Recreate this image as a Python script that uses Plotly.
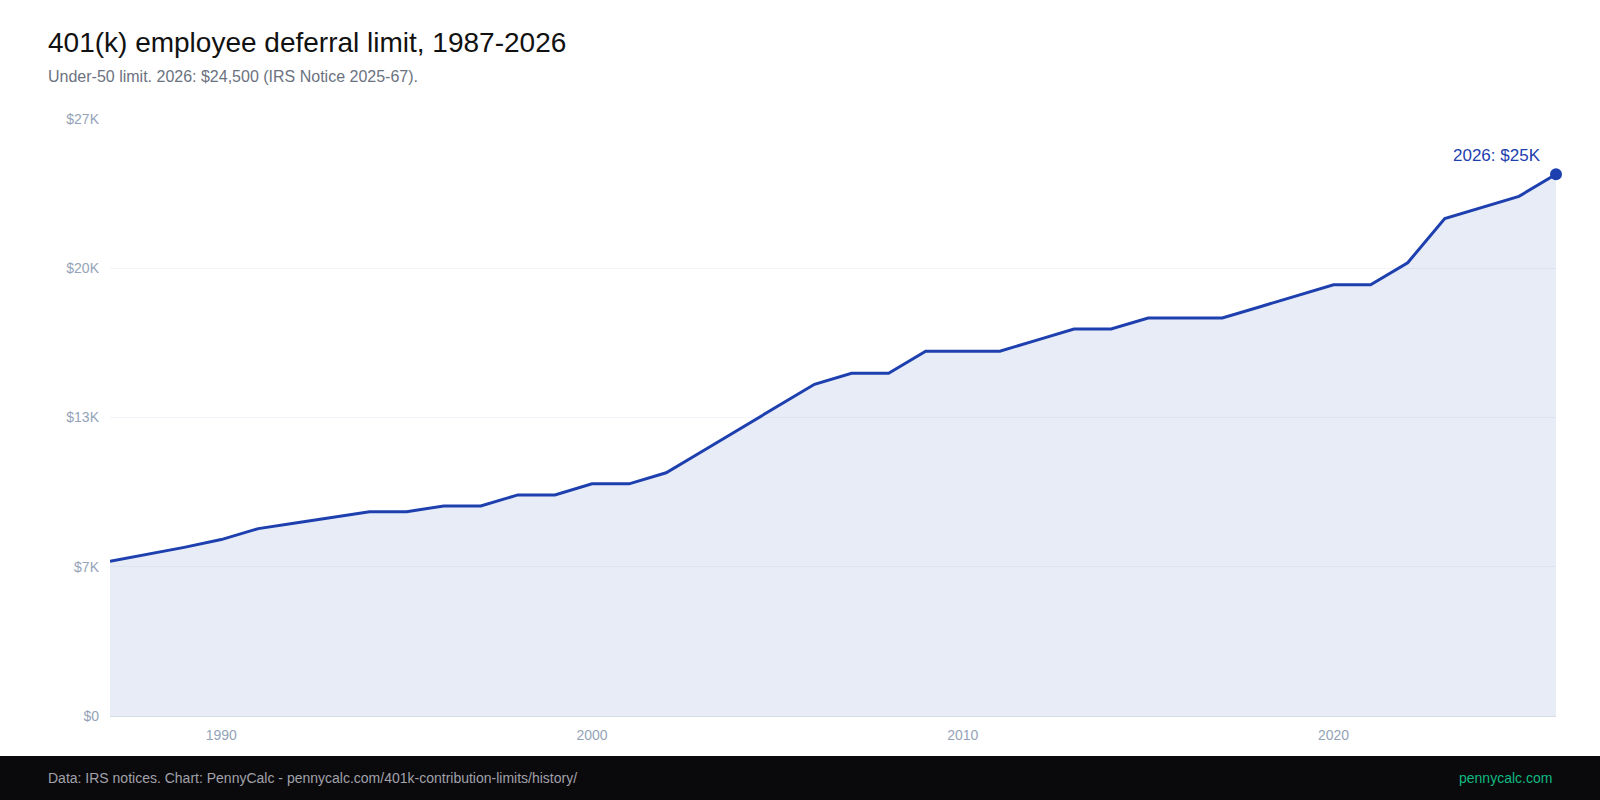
import plotly.graph_objects as go

# 401(k) under-50 employee deferral limit by year
years = list(range(1987, 2027))
limits = [7000, 7313, 7627, 7979, 8475, 8728, 8994, 9240, 9240, 9500,
          9500, 10000, 10000, 10500, 10500, 11000, 12000, 13000, 14000, 15000,
          15500, 15500, 16500, 16500, 16500, 17000, 17500, 17500, 18000, 18000,
          18000, 18500, 19000, 19500, 19500, 20500, 22500, 23000, 23500, 24500]

y_ticks = [0, 6750, 13500, 20250, 27000]
y_labels = ["$0", "$7K", "$13K", "$20K", "$27K"]
x_ticks = [1990, 2000, 2010, 2020]

BLUE = "#1e40af"
AXIS_TXT = "#94a3b8"
FONT = "Liberation Sans, Arial, sans-serif"

fig = go.Figure()

fig.add_trace(go.Scatter(
    x=years, y=limits, mode="lines",
    line=dict(color=BLUE, width=3),
    fill="tozeroy", fillcolor="rgba(30,64,175,0.1)",
    hoverinfo="skip",
))

# end point marker
fig.add_trace(go.Scatter(
    x=[years[-1]], y=[limits[-1]], mode="markers",
    marker=dict(color=BLUE, size=12),
    cliponaxis=False, hoverinfo="skip",
))

fig.add_annotation(
    x=years[-1], y=limits[-1], text="2026: $25K",
    showarrow=False, xanchor="right", yanchor="bottom",
    xshift=-13, yshift=7,
    font=dict(family=FONT, size=17, color=BLUE),
)

# title + subtitle
fig.add_annotation(
    x=(46 - 110) / 1446, y=(716 - 43) / 597, xref="paper", yref="paper",
    text="401(k) employee deferral limit, 1987-2026", showarrow=False,
    xanchor="left", yanchor="middle",
    font=dict(family=FONT, size=28, color="#111111"),
)
fig.add_annotation(
    x=(46 - 110) / 1446, y=(716 - 76) / 597, xref="paper", yref="paper",
    text="Under-50 limit. 2026: $24,500 (IRS Notice 2025-67).", showarrow=False,
    xanchor="left", yanchor="middle",
    font=dict(family=FONT, size=16, color="#6b7280"),
)

# footer bar
fig.add_shape(
    type="rect", xref="paper", yref="paper",
    x0=-0.1, x1=1.1, y0=-40 / 597, y1=-0.2,
    fillcolor="#0a0a0c", line=dict(width=0), layer="above",
)
fig.add_annotation(
    x=(46 - 110) / 1446, y=-62 / 597, xref="paper", yref="paper",
    text="Data: IRS notices. Chart: PennyCalc - pennycalc.com/401k-contribution-limits/history/",
    showarrow=False, xanchor="left", yanchor="middle",
    font=dict(family=FONT, size=14, color="#a1a1aa"),
)
fig.add_annotation(
    x=(1554 - 110) / 1446, y=-62 / 597, xref="paper", yref="paper",
    text="pennycalc.com", showarrow=False, xanchor="right", yanchor="middle",
    font=dict(family=FONT, size=14, color="#10b981"),
)

fig.update_layout(
    width=1600, height=800,
    margin=dict(l=110, r=44, t=119, b=84),
    paper_bgcolor="white", plot_bgcolor="white",
    showlegend=False,
    font=dict(family=FONT),
    xaxis=dict(
        range=[1987, 2026], tickvals=x_ticks, showgrid=False,
        showline=True, linecolor="#d6dce8", linewidth=1,
        ticks="", ticklabelstandoff=6,
        tickfont=dict(size=14, color=AXIS_TXT), zeroline=False,
    ),
    yaxis=dict(
        range=[0, 27000], tickvals=y_ticks, ticktext=y_labels,
        showgrid=True, gridcolor="#f1f5f9", zeroline=False,
        ticks="", ticklabelstandoff=10,
        tickfont=dict(size=14, color=AXIS_TXT),
    ),
)

fig.write_html("out.html", config={"displayModeBar": False},
               post_script="document.body.style.margin='0';")
